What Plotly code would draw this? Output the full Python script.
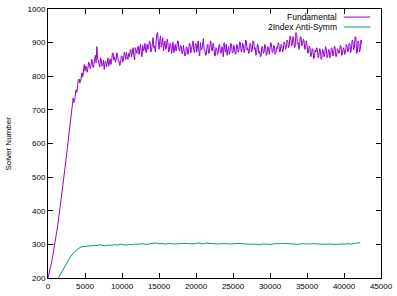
import plotly.graph_objects as go

# ---------------- data ----------------
FUND_START, FUND_STEP = 0, 100
fundamental = [
    200, 208, 218, 227, 238, 248, 260, 272, 285, 298,
    312, 325, 338, 354, 370, 386, 402, 420, 440, 458,
    475, 492, 508, 526, 545, 565, 585, 600, 618, 635,
    652, 672, 690, 712, 735, 722, 728, 745, 760, 752,
    775, 790, 792, 780, 785, 805, 810, 798, 822, 835,
    815, 830, 828, 812, 825, 842, 838, 822, 830, 850,
    845, 825, 835, 852, 862, 840, 888, 855, 845, 832,
    828, 855, 850, 830, 835, 848, 820, 838, 845, 828,
    838, 855, 830, 842, 852, 835, 845, 868, 870, 848,
    858, 842, 850, 870, 862, 845, 845, 832, 838, 860,
    860, 842, 848, 872, 865, 850, 872, 858, 850, 868,
    858, 875, 880, 858, 870, 885, 862, 848, 885, 870,
    868, 885, 890, 865, 878, 895, 870, 858, 892, 875,
    880, 898, 875, 870, 895, 880, 885, 905, 900, 872,
    878, 900, 915, 885, 890, 872, 905, 925, 930, 885,
    880, 905, 920, 888, 895, 915, 875, 890, 905, 880,
    885, 910, 900, 872, 878, 898, 895, 868, 880, 902,
    870, 888, 895, 875, 882, 905, 905, 878, 875, 892,
    890, 868, 868, 892, 880, 860, 862, 888, 885, 865,
    872, 898, 895, 870, 880, 902, 905, 878, 870, 895,
    898, 872, 885, 905, 872, 860, 900, 878, 880, 912,
    912, 878, 878, 862, 865, 890, 895, 868, 870, 895,
    905, 880, 875, 898, 890, 862, 860, 885, 882, 865,
    870, 892, 895, 870, 868, 888, 880, 858, 900, 880,
    872, 895, 862, 878, 888, 865, 875, 898, 895, 870,
    870, 892, 885, 865, 868, 895, 890, 872, 878, 902,
    900, 872, 875, 898, 892, 870, 880, 908, 905, 878,
    885, 868, 870, 898, 895, 872, 878, 905, 902, 880,
    885, 862, 870, 895, 892, 868, 875, 858, 860, 888,
    888, 868, 872, 895, 890, 862, 868, 888, 885, 865,
    878, 900, 895, 870, 872, 892, 888, 865, 870, 885,
    882, 900, 895, 872, 875, 895, 890, 872, 880, 902,
    898, 880, 885, 908, 905, 885, 892, 920, 918, 890,
    895, 918, 910, 885, 888, 930, 925, 895, 900, 880,
    892, 918, 915, 890, 895, 910, 905, 880, 882, 905,
    895, 868, 870, 890, 885, 858, 862, 882, 878, 852,
    855, 878, 872, 885, 880, 855, 860, 882, 878, 850,
    852, 880, 875, 858, 865, 888, 882, 855, 858, 880,
    875, 855, 862, 885, 880, 860, 868, 890, 885, 858,
    860, 882, 878, 868, 870, 892, 888, 862, 865, 885,
    880, 865, 872, 895, 890, 872, 878, 898, 895, 870,
    880, 908, 905, 878, 885, 918, 915, 868, 870, 905,
    900, 872, 880, 908, 895,
]

ANTI_START, ANTI_STEP = 1400, 400
anti_symm = [
    200, 216, 232, 248, 262, 274, 283, 289, 293, 294,
    296, 295, 297, 296, 299, 297, 296, 298, 297, 299,
    298, 300, 299, 298, 300, 299, 301, 300, 302, 301,
    300, 302, 303, 304, 302, 303, 301, 302, 303, 301,
    302, 301, 302, 303, 302, 301, 302, 304, 303, 302,
    304, 303, 302, 303, 301, 302, 303, 302, 301, 302,
    301, 303, 302, 301, 302, 300, 301, 300, 299, 301,
    300, 301, 300, 302, 301, 302, 303, 302, 301, 302,
    301, 300, 302, 301, 300, 301, 302, 301, 300, 299,
    300, 301, 300, 299, 300, 301, 300, 301, 302, 301,
    303, 304, 305,
]

series_names = ["Fundamental", "2Index Anti-Symm"]
series_colors = ["#9400d3", "#009e73"]
x_ticks = [0, 5000, 10000, 15000, 20000, 25000, 30000, 35000, 40000, 45000]
y_ticks = [200, 300, 400, 500, 600, 700, 800, 900, 1000]
y_label = "Solver Number"

fund_x = [FUND_START + i * FUND_STEP for i in range(len(fundamental))]
anti_x = [ANTI_START + i * ANTI_STEP for i in range(len(anti_symm))]

FONT = "Liberation Sans, Arial, sans-serif"

fig = go.Figure()
fig.add_trace(go.Scatter(x=fund_x, y=fundamental, mode="lines", name=series_names[0],
                         line=dict(color=series_colors[0], width=1)))
fig.add_trace(go.Scatter(x=anti_x, y=anti_symm, mode="lines", name=series_names[1],
                         line=dict(color=series_colors[1], width=1)))

axis_common = dict(showline=True, linecolor="black", linewidth=1, mirror="allticks",
                   ticks="inside", ticklen=5, tickcolor="black", showgrid=False,
                   zeroline=False, automargin=False,
                   tickfont=dict(family=FONT, size=8, color="black"))

fig.update_layout(
    width=397, height=296,
    margin=dict(l=48, r=16, t=9, b=18),
    paper_bgcolor="white", plot_bgcolor="white",
    showlegend=False,
    xaxis=dict(range=[0, 45000], tickvals=x_ticks, ticktext=[str(v) for v in x_ticks], **axis_common),
    yaxis=dict(range=[200, 1000], tickvals=y_ticks, ticktext=[str(v) for v in y_ticks], **axis_common),
)

fig.add_annotation(xref="paper", yref="paper", x=-0.12, y=0.5, text=y_label, textangle=-90,
                   showarrow=False, xanchor="center", yanchor="middle",
                   font=dict(family=FONT, size=8, color="black"))

# gnuplot-style key: text right-aligned, sample line to the right
key_rows = [0.97, 0.933]
for name, color, yy in zip(series_names, series_colors, key_rows):
    fig.add_annotation(xref="paper", yref="paper", x=0.875, y=yy, text=name, showarrow=False,
                       xanchor="right", yanchor="middle",
                       font=dict(family=FONT, size=8.5, color="black"))
    fig.add_shape(type="line", xref="paper", yref="paper", x0=0.888, x1=0.968, y0=yy, y1=yy,
                  line=dict(color=color, width=1))

fig.write_html("out.html", config={"displayModeBar": False},
               post_script="document.body.style.margin='0';document.body.style.overflow='hidden';")
